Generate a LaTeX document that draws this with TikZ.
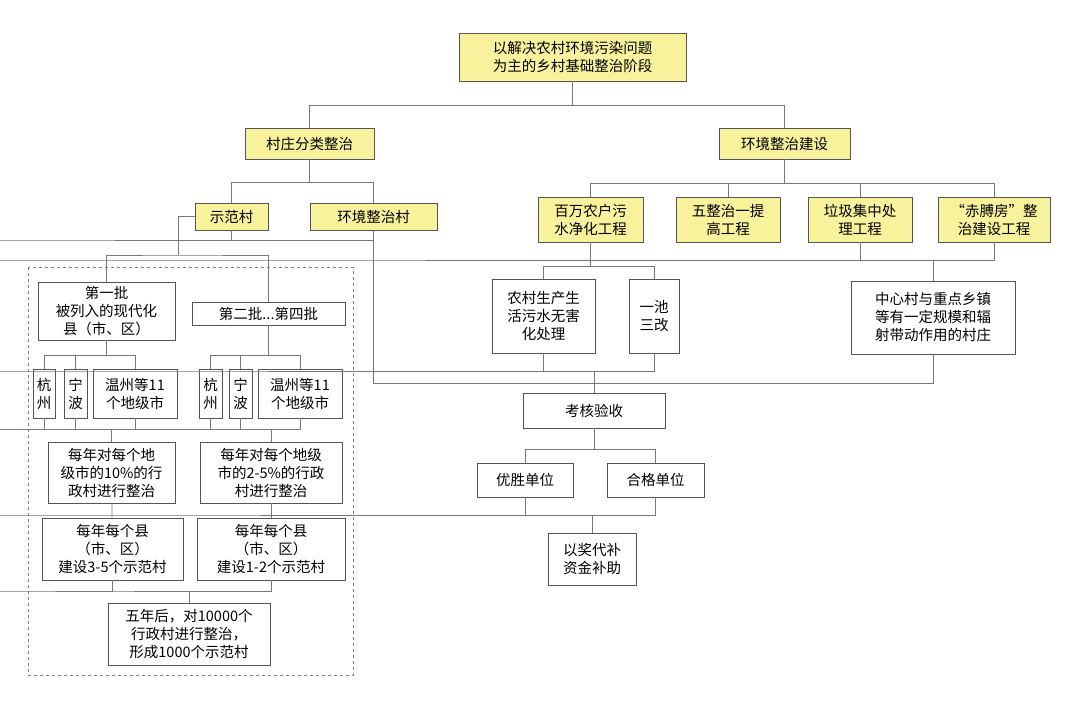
\documentclass[tikz,border=0pt]{standalone}
\usepackage{fontspec}
\newfontfamily\cjk{Noto Sans CJK SC}
\definecolor{yel}{HTML}{F8F29C}
\definecolor{edge}{HTML}{555555}
\newcommand\B[7][box]{\node[#1,minimum width={(#5-#3)*1pt},minimum height={(#6-#4)*1pt}] (#2) at ({(#3+#5)/2},{(#4+#6)/2}) {#7};}
\newcommand\bus[3]{\coordinate (tmpy) at (0,#2);\foreach \c in {#3}{\draw[ln] (#1.south) -- (#1.south|-tmpy) -| (\c.north);}}
\begin{document}
\begin{tikzpicture}[x=1pt,y=-1pt,
 box/.style={draw=edge,line width=0.8pt,fill=white,inner sep=0pt,align=center,font=\cjk\fontsize{14.5}{18}\selectfont},
 ybox/.style={box,fill=yel},
 ln/.style={draw=edge!80,line width=0.8pt}]
\useasboundingbox[fill=white] (0,0) rectangle (1080,716);
\draw[ln,dashed,draw=gray] (28,267) rectangle (353,675);
\B[ybox]{top}{459}{33}{686}{81}{以解决农村环境污染问题\\为主的乡村基础整治阶段}
\B[ybox]{cz}{245}{128}{374}{159}{村庄分类整治}
\B[ybox]{hj}{719}{128}{850}{159}{环境整治建设}
\B[ybox]{sf}{195}{203}{268}{230}{示范村}
\B[ybox]{hz}{310}{203}{437}{230}{环境整治村}
\B{p1}{38}{282}{175}{340}{第一批\\被列入的现代化\\县（市、区）}
\B{p2}{192}{302}{345}{325}{第二批...第四批}
\B{a1}{33}{369}{55}{418}{杭\\州}
\B{a2}{64}{369}{87}{418}{宁\\波}
\B{a3}{93}{369}{177}{418}{温州等11\\个地级市}
\B{b1}{199}{369}{222}{418}{杭\\州}
\B{b2}{229}{369}{252}{418}{宁\\波}
\B{b3}{258}{369}{342}{418}{温州等11\\个地级市}
\B{c1}{48}{442}{175}{503}{每年对每个地\\级市的10\%的行\\政村进行整治}
\B{c2}{200}{442}{342}{503}{每年对每个地级\\市的2-5\%的行政\\村进行整治}
\B{d1}{42}{518}{183}{580}{每年每个县\\（市、区）\\建设3-5个示范村}
\B{d2}{197}{518}{345}{580}{每年每个县\\（市、区）\\建设1-2个示范村}
\B{e}{108}{603}{270}{665}{五年后，对10000个\\行政村进行整治，\\形成1000个示范村}
\B[ybox]{r1}{538}{197}{643}{242}{百万农户污\\水净化工程}
\B[ybox]{r2}{676}{197}{780}{242}{五整治一提\\高工程}
\B[ybox]{r3}{808}{197}{912}{242}{垃圾集中处\\理工程}
\B[ybox]{r4}{938}{197}{1050}{242}{“赤膊房”整\\治建设工程}
\B{n1}{492}{279}{595}{353}{农村生产生\\活污水无害\\化处理}
\B{n2}{629}{279}{679}{353}{一池\\三改}
\B{zx}{851}{281}{1015}{354}{中心村与重点乡镇\\等有一定规模和辐\\射带动作用的村庄}
\B{kh}{523}{393}{665}{428}{考核验收}
\B{y1}{477}{463}{573}{497}{优胜单位}
\B{y2}{607}{463}{704}{497}{合格单位}
\B{jl}{548}{533}{636}{585}{以奖代补\\资金补助}
\begin{scope}[on background layer/.style={}]
\end{scope}
% connectors
\bus{top}{105}{cz,hj}
\bus{cz}{182}{sf,hz}
\bus{hj}{183}{r1,r2,r3,r4}
\bus{r1}{266}{n1,n2}
\coordinate (j260) at (0,260);
\draw[ln] (r3.south) |- (j260) -| (r4.south);
\draw[ln] (zx.north) -- (zx.north|-j260);
\coordinate (j240) at (0,240);
\coordinate (j383) at (0,383);
\coordinate (j371) at (0,371);
\draw[ln] (sf.south) |- (j240) -| (hz.south);
\draw[ln] (hz.south) -- (hz.south|-j383) -| (zx.south);
\draw[ln] (n1.south) |- (j371) -| (n2.south);
\draw[ln] (kh.north) -- (kh.north|-j371);
\bus{kh}{449}{y1,y2}
\coordinate (j515) at (0,515);
\draw[ln] (y1.south) |- (j515) -| (y2.south);
\draw[ln] (jl.north) -- (jl.north|-j515);
% left side
\coordinate (s1) at (178,255);
\draw[ln] (sf.west) -| (s1);
\draw[ln] (p1.north) |- (s1) -| (p2.north);
\bus{p1}{355}{a1,a2,a3}
\bus{p2}{355}{b1,b2,b3}
\coordinate (j429) at (0,429);
\draw[ln] (a1.south) |- (j429) -| (a3.south);
\draw[ln] (a2.south) -- (a2.south|-j429);
\draw[ln] (b1.south) |- (j429) -| (b3.south);
\draw[ln] (b2.south) -- (b2.south|-j429);
\draw[ln] (c1.north) -- (c1.north|-j429);
\draw[ln] (c2.north) -- (c2.north|-j429);
\draw[ln] (c1) -- (d1);
\draw[ln] (c2) -- (d2);
\coordinate (j591) at (0,591);
\draw[ln] (d1.south) |- (j591) -| (d2.south);
\draw[ln] (e.north) -- (e.north|-j591);
\end{tikzpicture}
\end{document}
